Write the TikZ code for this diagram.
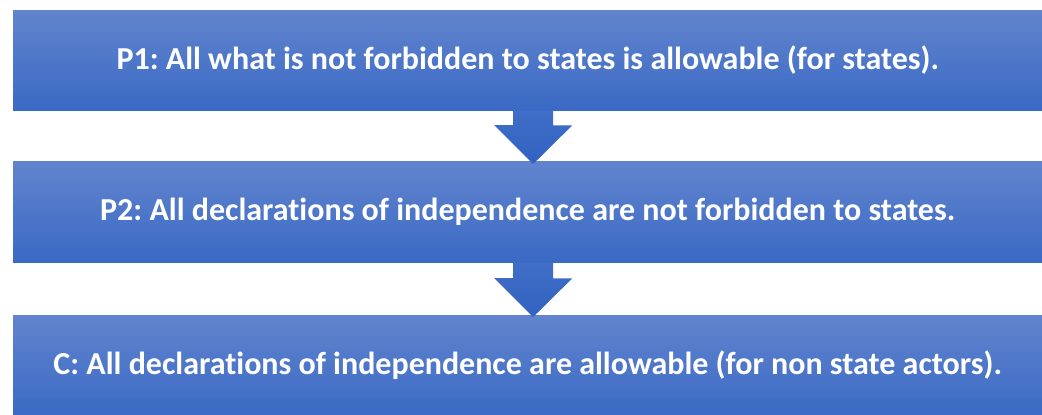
\documentclass[tikz,border=0pt]{standalone}
\usepackage{fontspec}
\setmainfont[Ligatures=NoCommon]{Carlito}
\begin{document}
\frenchspacing
\begin{tikzpicture}[x=1pt,y=-1pt,
  stepbox/.style={rectangle, inner sep=0pt, minimum width=1029pt, minimum height=100pt,
    top color=boxtop, bottom color=boxbot, text=white,
    font=\bfseries\fontsize{32}{38}\selectfont},
  downarrow/.style={top color=arrtop, bottom color=arrbot, draw=none}]
\definecolor{boxtop}{RGB}{98,132,205}
\definecolor{boxbot}{RGB}{58,106,197}
\definecolor{arrtop}{RGB}{64,110,200}
\definecolor{arrbot}{RGB}{50,98,192}
\useasboundingbox (0,0) rectangle (1042,415);
\node[stepbox, anchor=north west] (p1) at (13,10)
  {P1: All what is not forbidden to states is allowable (for states).};
\node[stepbox, anchor=north west, minimum height=101pt] (p2) at (13,161)
  {P2: All declarations of independence are not forbidden to states.};
\node[stepbox, anchor=north west] (c) at (13,315)
  {C: All declarations of independence are allowable (for non state actors).};
% block arrows between the steps
\path[downarrow] ([xshift=-14.5pt]p1.south) coordinate (a1)
  -- ++(40,0) -- ++(0,15) -- ++(19,0) -- ([xshift=5.5pt,yshift=-3pt]p2.north) -- ++(-39,-39) -- ++(19,0) -- cycle;
\path[downarrow] ([xshift=-14.5pt]p2.south) coordinate (a2)
  -- ++(40,0) -- ++(0,16) -- ++(19,0) -- ([xshift=5.5pt,yshift=-2pt]c.north) -- ++(-39,-39) -- ++(19,0) -- cycle;
\end{tikzpicture}
\end{document}
